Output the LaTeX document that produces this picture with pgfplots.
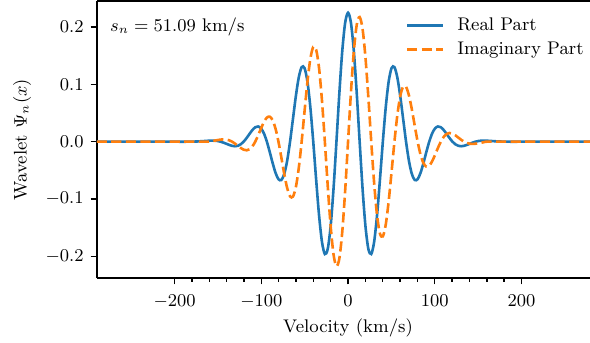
\documentclass[border=0pt]{standalone}
\usepackage{pgfplots}
\usepackage{pgfplotstable}
\pgfplotsset{compat=1.18}
\definecolor{tabblue}{HTML}{1F77B4}
\definecolor{taborange}{HTML}{FF7F0E}
\pgfplotstableread{
x re im
-290 0 0
-220 0 0
-180 0 0
-160.51 0.00162 0
-157.16 0.00183 0.00076
-153.82 0.00171 0.00171
-150.48 0.00113 0.00272
-147.13 0 0.00356
-143.79 -0.00164 0.00396
-140.44 -0.00363 0.00363
-137.10 -0.00567 0.00235
-133.76 -0.00731 0
-130.41 -0.00799 -0.00331
-127.07 -0.00722 -0.00722
-123.72 -0.00459 -0.01108
-120.38 0 -0.01402
-117.04 0.00625 -0.01508
-113.69 0.01338 -0.01338
-110.35 0.02018 -0.00836
-107.00 0.02510 0
-103.66 0.02654 0.01099
-100.32 0.02314 0.02314
-96.97 0.01421 0.03431
-93.63 0 0.04196
-90.29 -0.01807 0.04362
-86.94 -0.03740 0.03740
-83.60 -0.05451 0.02258
-80.25 -0.06552 0
-76.91 -0.06694 -0.02773
-73.57 -0.05642 -0.05642
-70.22 -0.03348 -0.08083
-66.88 0 -0.09552
-63.53 0.03974 -0.09594
-60.19 0.07948 -0.07948
-56.85 0.11194 -0.04637
-53.50 0.13003 0
-50.16 0.12838 0.05318
-46.81 0.10456 0.10456
-43.47 0.05995 0.14474
-40.13 0 0.16529
-36.78 -0.06644 0.16041
-33.44 -0.12842 0.12842
-30.10 -0.17476 0.07239
-26.75 -0.19618 0
-23.41 -0.18716 -0.07752
-20.06 -0.14729 -0.14729
-16.72 -0.08161 -0.19704
-13.38 0 -0.21742
-10.03 0.08446 -0.20391
-6.69 0.15774 -0.15774
-3.34 0.20743 -0.08592
0 0.22500 0
3.34 0.20743 0.08592
6.69 0.15774 0.15774
10.03 0.08446 0.20391
13.38 0 0.21742
16.72 -0.08161 0.19704
20.06 -0.14729 0.14729
23.41 -0.18716 0.07752
26.75 -0.19618 0
30.10 -0.17476 -0.07239
33.44 -0.12842 -0.12842
36.78 -0.06644 -0.16041
40.13 0 -0.16529
43.47 0.05995 -0.14474
46.81 0.10456 -0.10456
50.16 0.12838 -0.05318
53.50 0.13003 0
56.85 0.11194 0.04637
60.19 0.07948 0.07948
63.53 0.03974 0.09594
66.88 0 0.09552
70.22 -0.03348 0.08083
73.57 -0.05642 0.05642
76.91 -0.06694 0.02773
80.25 -0.06552 0
83.60 -0.05451 -0.02258
86.94 -0.03740 -0.03740
90.29 -0.01807 -0.04362
93.63 0 -0.04196
96.97 0.01421 -0.03431
100.32 0.02314 -0.02314
103.66 0.02654 -0.01099
107.00 0.02510 0
110.35 0.02018 0.00836
113.69 0.01338 0.01338
117.04 0.00625 0.01508
120.38 0 0.01402
123.72 -0.00459 0.01108
127.07 -0.00722 0.00722
130.41 -0.00799 0.00331
133.76 -0.00731 0
137.10 -0.00567 -0.00235
140.44 -0.00363 -0.00363
143.79 -0.00164 -0.00396
147.13 0 -0.00356
150.48 0.00113 -0.00272
153.82 0.00171 -0.00171
157.16 0.00183 -0.00076
160.51 0.00162 0
180 0 0
220 0 0
290 0 0
}\wavelet
\begin{document}
\begin{tikzpicture}
\begin{axis}[
  scale only axis,
  width=246.5pt, height=138.5pt,
  xmin=-289.5, xmax=279,
  ymin=-0.238, ymax=0.2455,
  axis x line*=box, axis y line*=left,
  xtick pos=bottom, ytick pos=left,
  tick align=outside,
  xtick={-200,-100,0,100,200},
  minor x tick num=4,
  ytick={-0.2,-0.1,0,0.1,0.2},
  yticklabel style={/pgf/number format/.cd,fixed,fixed zerofill,precision=1},
  xticklabel style={yshift=-1.5pt},
  major tick length=3.2pt, minor tick length=1.85pt,
  every tick/.style={line width=0.73pt, black},
  axis line style={line width=0.73pt},
  tick label style={font=\fontsize{9.15}{11}\selectfont},
  label style={font=\fontsize{9.15}{11}\selectfont},
  xlabel={Velocity (km/s)},
  ylabel={Wavelet $\Psi_n(x)$},
  xlabel style={at={(axis cs:0,-0.238)}, anchor=center, yshift=-25pt},
  ylabel style={at={(axis description cs:-0.152,0.5)}, anchor=center},
  legend style={draw=none, fill=none, at={(axis description cs:1.0,0.958)}, anchor=north east,
    font=\fontsize{9.15}{11}\selectfont, row sep=3.5pt,
    nodes={inner sep=0pt, text height=6.5pt, text depth=2pt},
    /tikz/every odd column/.append style={column sep=6.5pt}},
  legend cell align=left,
  legend image code/.code={\draw[#1] (0pt,0pt) -- (18pt,0pt);},
]
\addplot[tabblue, line width=1.3pt, smooth] table[x=x, y=re] {\wavelet};
\addlegendentry{Real Part}
\addplot[taborange, line width=1.3pt, smooth, dash pattern=on 5.1pt off 2.2pt] table[x=x, y=im] {\wavelet};
\addlegendentry{Imaginary Part}
\node[anchor=north west, inner sep=0pt, font=\fontsize{9.15}{11}\selectfont] at (axis description cs:0.026,0.942) {$s_n = 51.09$ km/s};
\end{axis}
\pgfresetboundingbox
\path[use as bounding box] ([xshift=-48.5pt,yshift=-32.5pt]current axis.south west) rectangle ([yshift=0.5pt]current axis.north east);
\end{tikzpicture}
\end{document}
